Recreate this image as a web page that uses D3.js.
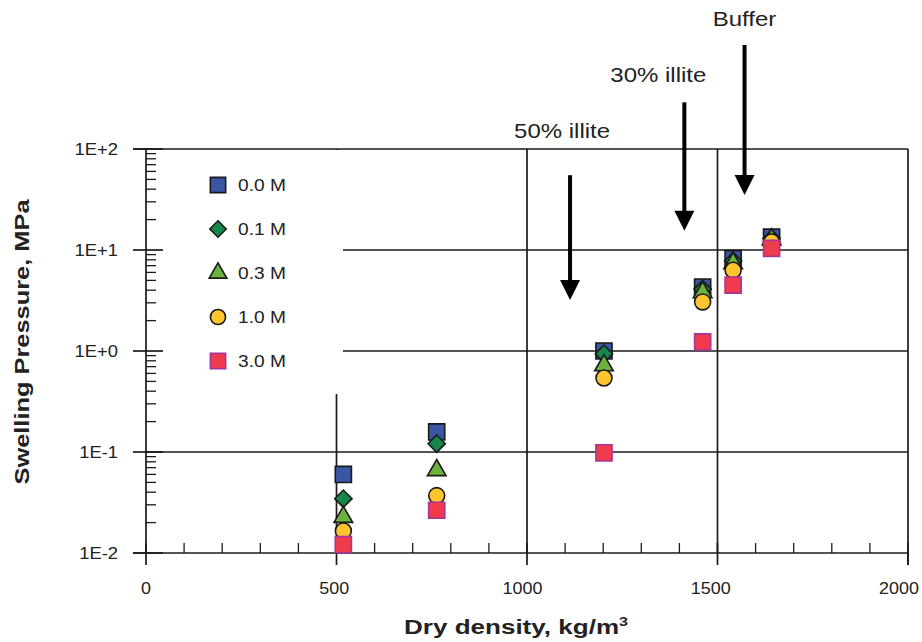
<!DOCTYPE html>
<html>
<head>
<meta charset="utf-8">
<script src="https://cdn.jsdelivr.net/npm/d3@7"></script>
<style>
	body { margin: 0; background: #fff; }
	svg { display: block; font-family: "Liberation Sans", Arial, sans-serif; }
</style>
</head>
<body>
<svg id="chart"></svg>
<script>
// dry density, kg/m3
var density = [518, 763, 1202, 1461, 1541, 1642]

var seriesNames = ["0.0 M", "0.1 M", "0.3 M", "1.0 M", "3.0 M"]
var p00 = [0.060, 0.158, 1.0, 4.3, 8.2, 13.4]
var p01 = [0.0345, 0.121, 0.94, 4.1, 7.8, 13.0]
var p03 = [0.0227, 0.066, 0.72, 3.8, 7.4, 12.7]
var p10 = [0.0165, 0.037, 0.54, 3.06, 6.3, 12.0]
var p30 = [0.0121, 0.0265, 0.098, 1.23, 4.5, 10.4]

var xTicks = [0, 500, 1000, 1500, 2000]
var yTicks = [0.01, 0.1, 1, 10, 100]
var yTickLabels = ["1E-2", "1E-1", "1E+0", "1E+1", "1E+2"]

var noteLabels = ["50% illite", "30% illite", "Buffer"]
var noteX = [1113, 1413, 1571]
var noteTop = [55, 290, 1070]
var noteTip = [3.2, 15.5, 35]

var width = 922
var height = 642
var margin = ({top: 149, right: 14, bottom: 89, left: 146})

var x = d3.scaleLinear()
	.domain([0, 2000])
	.range([margin.left, width - margin.right])

var y = d3.scaleLog()
	.domain([0.01, 100])
	.range([height - margin.bottom, margin.top])

var svg = d3.select("#chart")
	.attr("width", width)
	.attr("height", height)
	.attr("viewBox", [0, 0, width, height])

// text in the source is a bit wider than Arial, so stretch it sideways
function wideText(parent, tx, ty, sx, size, anchor) {
	return parent.append("text")
		.attr("transform", `translate(${tx},${ty}) scale(${sx},1)`)
		.attr("text-anchor", anchor)
		.attr("font-size", size)
		.attr("fill", "#222")
}

var diamond = {
	draw: function(ctx, size) {
		var r = Math.sqrt(size / 2)
		ctx.moveTo(0, -r)
		ctx.lineTo(r, 0)
		ctx.lineTo(0, r)
		ctx.lineTo(-r, 0)
		ctx.closePath()
	}
}

var styles = [
	{name: seriesNames[0], values: p00, type: d3.symbolSquare, size: 260, fill: "#3a55a4", stroke: "#1a1a1a"},
	{name: seriesNames[1], values: p01, type: diamond, size: 150, fill: "#15874a", stroke: "#1a1a1a"},
	{name: seriesNames[2], values: p03, type: d3.symbolTriangle, size: 150, fill: "#6cb33e", stroke: "#1a1a1a"},
	{name: seriesNames[3], values: p10, type: d3.symbolCircle, size: 200, fill: "#fec52e", stroke: "#1a1a1a"},
	{name: seriesNames[4], values: p30, type: d3.symbolSquare, size: 260, fill: "#ef3b4b", stroke: "#a8359a"}
]

var x0 = x(0), x1 = x(2000), y0 = y(0.01), y1 = y(100)

// plot frame and grid
var grid = svg.append("g").attr("stroke", "#1a1a1a").attr("stroke-width", 1.7)
grid.append("line").attr("x1", x0 - 13).attr("x2", x1).attr("y1", y1).attr("y2", y1)
grid.append("line").attr("x1", x1).attr("x2", x1).attr("y1", y1).attr("y2", y0 + 12)
grid.selectAll(".hg").data([0.1, 1, 10]).join("line")
	.attr("x1", x0).attr("x2", x1)
	.attr("y1", d => y(d)).attr("y2", d => y(d))
grid.selectAll(".vg").data([500, 1000, 1500]).join("line")
	.attr("x1", d => x(d)).attr("x2", d => x(d))
	.attr("y1", y1).attr("y2", y0)

// legend box (white, hides the grid behind it)
var legendW = 196, legendH = 244
svg.append("rect")
	.attr("x", x0 + 1).attr("y", y1 + 1)
	.attr("width", legendW).attr("height", legendH)
	.attr("fill", "#fff")

// y axis
var yAxis = svg.append("g").attr("stroke", "#1a1a1a").attr("stroke-width", 1.7)
yAxis.append("line").attr("x1", x0).attr("x2", x0).attr("y1", y1).attr("y2", y0 + 1)
var minorY = []
for (var e = -2; e < 2; e++) {
	for (var k = 2; k <= 9; k++) minorY.push(k * Math.pow(10, e))
}
yAxis.selectAll(".ym").data(minorY).join("line")
	.attr("x1", x0).attr("x2", x0 + 10)
	.attr("y1", d => y(d)).attr("y2", d => y(d))
	.attr("stroke-width", 1.3)
yAxis.selectAll(".yM").data(yTicks).join("line")
	.attr("x1", x0 - 13).attr("x2", x0 + 17)
	.attr("y1", d => y(d)).attr("y2", d => y(d))
yTicks.forEach(function(d, i) {
	wideText(svg, x0 - 28, y(d) + 6, 1.15, 16, "end").text(yTickLabels[i])
})

// x axis
var xAxis = svg.append("g").attr("stroke", "#1a1a1a").attr("stroke-width", 1.7)
xAxis.append("line").attr("x1", x0 - 13).attr("x2", x1).attr("y1", y0).attr("y2", y0)
xAxis.selectAll(".xm").data(d3.range(100, 2000, 100).filter(d => d % 500)).join("line")
	.attr("x1", d => x(d)).attr("x2", d => x(d))
	.attr("y1", y0 - 10).attr("y2", y0)
	.attr("stroke-width", 1.3)
xAxis.selectAll(".xM").data(xTicks).join("line")
	.attr("x1", d => x(d)).attr("x2", d => x(d))
	.attr("y1", y0 - 10).attr("y2", y0 + 12)
xTicks.forEach(function(d) {
	wideText(svg, x(d) - d * 0.0045, y0 + 41, 1.12, 16, "middle").text(d)
})

// axis titles
svg.append("text")
	.attr("transform", `translate(29,342) rotate(-90) scale(1.21,1)`)
	.attr("text-anchor", "middle")
	.attr("font-size", 21)
	.attr("font-weight", "bold")
	.attr("fill", "#222")
	.text("Swelling Pressure, MPa")

var xt = wideText(svg, 516, 634, 1.24, 21, "middle").attr("font-weight", "bold")
xt.append("tspan").text("Dry density, kg/m")
xt.append("tspan").attr("font-size", 13).attr("dy", -8).text("3")

// annotation arrows
var noteDx = [-8, -26, 0]
var noteDy = [-37, -20, -19]
noteLabels.forEach(function(label, i) {
	var ax = x(noteX[i]), top = y(noteTop[i]), tip = y(noteTip[i])
	svg.append("line")
		.attr("x1", ax).attr("x2", ax)
		.attr("y1", top).attr("y2", tip - 16)
		.attr("stroke", "#000")
		.attr("stroke-width", 4)
	svg.append("path")
		.attr("d", `M${ax - 10},${tip - 20}L${ax + 10},${tip - 20}L${ax},${tip}Z`)
		.attr("fill", "#000")
	wideText(svg, ax + noteDx[i], top + noteDy[i], 1.2, 20, "middle").text(label)
})

// data points
styles.forEach(function(s) {
	svg.append("g").selectAll("path").data(s.values).join("path")
		.attr("transform", (d, i) => `translate(${x(density[i])},${y(d)})`)
		.attr("d", d3.symbol().type(s.type).size(s.size))
		.attr("fill", s.fill)
		.attr("stroke", s.stroke)
		.attr("stroke-width", 1.6)
})

// legend
var legend = svg.append("g")
	.selectAll("g").data(styles).join("g")
	.attr("transform", (d, i) => `translate(${x0 + 72},${y1 + 36 + i * 44})`)
legend.append("path")
	.attr("d", d => d3.symbol().type(d.type).size(d.size * 0.9)())
	.attr("fill", d => d.fill)
	.attr("stroke", d => d.stroke)
	.attr("stroke-width", 1.6)
legend.each(function(d) {
	wideText(d3.select(this), 20, 6, 1.13, 17, "start").text(d.name)
})
</script>
</body>
</html>
